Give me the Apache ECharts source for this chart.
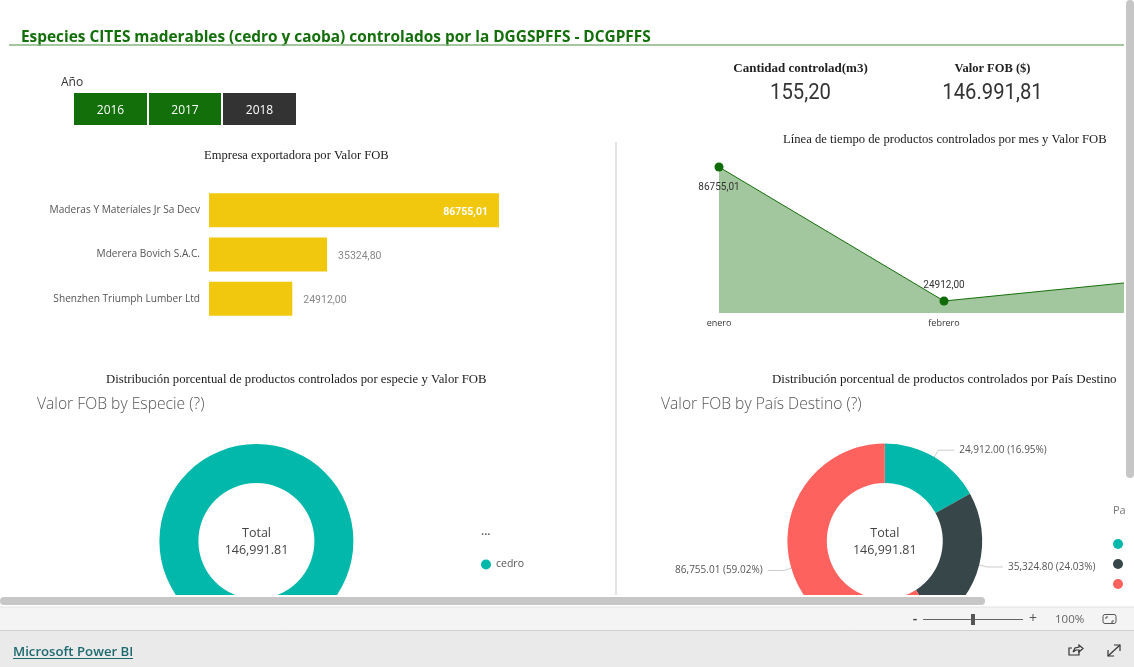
<!DOCTYPE html>
<html><head><meta charset="utf-8">
<script src="https://cdn.jsdelivr.net/npm/echarts@6/dist/echarts.min.js"></script>
<style>html,body{margin:0;padding:0;background:#fff;overflow:hidden}#c{width:1134px;height:667px}</style>
</head><body><div id="c"></div>
<script>
const empresas = ['Maderas Y Materiales Jr Sa Decv','Mderera Bovich S.A.C.','Shenzhen Triumph Lumber Ltd'];
const empresaValores = [86755.01,35324.80,24912.00];
const meses = ['enero','febrero','marzo'];
const mesValores = [86755.01,24912.00,35324.80];
const especies = ['cedro'];
const especieValores = [146991.81];
const destinos = ['Destino 1','Destino 2','Destino 3'];
const destinoValores = [24912.00,35324.80,86755.01];
const anios = ['2016','2017','2018'];
const fmtComa = v => v.toFixed(2).replace('.',',');
const fmtEn = v => v.toLocaleString('en-US',{minimumFractionDigits:2,maximumFractionDigits:2});
const UI='"Open Sans"', DIN='Roboto', SERIF='"Liberation Serif"';
const GREEN='#136f0a';
const heading=(text,x,y,size)=>({type:'text',zlevel:1,style:{text,x,y:y+1,font:size+'px '+SERIF,fill:'#1a1a1a',textVerticalAlign:'middle'}});
const txt=(text,x,y,font,fill,align)=>({type:'text',zlevel:1,style:{text,x,y:y+2,font,fill,textAlign:align||'left',textVerticalAlign:'middle'}});
const kpi=(text,cx,y)=>({type:'text',zlevel:1,x:cx,y:y+1,scaleX:0.92,style:{text,x:0,y:0,font:'22px '+DIN,fill:'#333',textAlign:'center',textVerticalAlign:'middle'}});
const rect=(x,y,w,h,fill,r)=>({type:'rect',zlevel:1,shape:{x,y,width:w,height:h,r:r||0},style:{fill}});
const line=(x1,y1,x2,y2,stroke,lw)=>({type:'line',zlevel:1,shape:{x1,y1,x2,y2},style:{stroke,lineWidth:lw||1}});
const poly=(points,stroke,lw)=>({type:'polyline',zlevel:1,shape:{points},style:{stroke,lineWidth:lw||1,fill:'none'}});
const chrome=[
  // covers that crop the report canvas
  rect(1124,0,10,667,'#fff'),
  rect(0,595,1134,12,'#fff'),
  // scrollbars
  rect(1126,0,8,478,'#c6c6c6',4),
  rect(0,597,985,8,'#c6c6c6',4),
  // footer
  rect(0,607,1134,23,'#f4f4f4'),
  line(0,607,1134,607,'#e2e2e2',1),
  rect(0,630,1134,37,'#eaeaea'),
  line(0,630.5,1134,630.5,'#cfcfcf',1),
  txt('Microsoft Power BI',13,650.5,'600 13.2px '+UI,'#1c6a70'),
  line(13,658.5,133,658.5,'#1c6a70',1),
  txt('-',915,617,'600 14px '+UI,'#444','center'),
  line(923,619.5,1023,619.5,'#666',1),
  rect(971,614,4,11,'#555'),
  txt('+',1033,617,'14px '+UI,'#555','center'),
  txt('100%',1055,617.5,'11.5px '+UI,'#666'),
  {type:'rect',zlevel:1,shape:{x:1103,y:614.5,width:13,height:9,r:2},style:{fill:'none',stroke:'#555',lineWidth:1}},
  poly([[1106,619],[1106,617],[1108,617]],'#555',1),
  poly([[1111,622],[1113,622],[1113,620]],'#555',1),
  poly([[1079,651],[1079,655],[1069,655],[1069,648],[1072,648]],'#333',1.2),
  poly([[1073,652],[1075,648],[1079,647],[1079,645],[1083,648.5],[1079,652],[1079,650],[1076,650],[1073,652]],'#333',1.2),
  line(1108,656,1120,645,'#333',1.2),
  poly([[1114,645],[1120,645],[1120,651]],'#333',1.2),
  poly([[1108,650],[1108,656],[1114,656]],'#333',1.2),
  // header
  txt('Especies CITES maderables (cedro y caoba) controlados por la DGGSPFFS - DCGPFFS',21,36,'700 15.4px '+UI,GREEN),
  line(9,45,1124,45,'#86b57f',1.5),
  // slicer
  txt('Año',61,81,'12px '+UI,'#333'),
  // KPI
  txt('Cantidad controlad(m3)',800.5,67,'700 13px '+SERIF,'#222','center'),
  txt('Valor FOB ($)',992.5,67,'700 12.5px '+SERIF,'#222','center'),
  kpi('155,20',800.5,92),
  kpi('146.991,81',992.5,92),
  // divider
  line(616,142,616,595,'#e3e3e3',2),
  // headings
  heading('Empresa exportadora por Valor FOB',204,155,12.55),
  heading('Línea de tiempo de productos controlados por mes y Valor FOB',783,139,12.65),
  heading('Distribución porcentual de productos controlados por especie y Valor FOB',106,379,12.73),
  heading('Distribución porcentual de productos controlados por País Destino',772,379,12.95),
  txt('Valor FOB by Especie (?)',37,402.5,'300 15.7px '+UI,'#555'),
  txt('Valor FOB by País Destino (?)',661,402.5,'300 15.7px '+UI,'#555'),
  txt('Total',256.5,531.5,'12.5px '+UI,'#444','center'),
  txt(fmtEn(especieValores[0]),256.5,548.5,'12.5px '+UI,'#444','center'),
  txt('Total',884.8,531.5,'12.5px '+UI,'#444','center'),
  txt(fmtEn(especieValores[0]),884.8,548.5,'12.5px '+UI,'#444','center'),
  txt('...',481,530,'700 11px '+UI,'#666'),
  txt('Pa',1113,509,'11px '+UI,'#777'),
];
anios.forEach((a,i)=>{
  const x=[74,149,223][i], w=[73,72,73][i];
  chrome.push(rect(x,93,w,32,i===2?'#333333':GREEN));
  chrome.push(txt(a,x+w/2,109,'12px '+UI,'#fff','center'));
});
const chart=echarts.init(document.getElementById('c'),null,{renderer:'canvas'});
chart.setOption({
  animation:false,
  graphic:{elements:chrome},
  legend:[
    {data:especies,orient:'vertical',left:481,top:559,icon:'circle',itemWidth:10,itemHeight:10,selectedMode:false,
     textStyle:{fontFamily:UI,fontSize:10.5,color:'#555'},itemGap:9,padding:0},
    {data:destinos,orient:'vertical',left:1113,top:539,icon:'circle',itemWidth:10,itemHeight:10,selectedMode:false,
     formatter:()=>'',itemGap:10,padding:0}
  ],
  grid:[
    {left:209,top:188,width:290,height:133,outerBoundsMode:'none'},
    {left:719,top:167,width:450,height:146,outerBoundsMode:'none'}
  ],
  xAxis:[
    {gridIndex:0,type:'value',min:0,max:86755.01,show:false},
    {gridIndex:1,type:'category',data:meses,boundaryGap:false,axisLine:{show:false},axisTick:{show:false},
     axisLabel:{fontFamily:UI,fontSize:9,color:'#333',margin:6,interval:0,hideOverlap:false}}
  ],
  yAxis:[
    {gridIndex:0,type:'category',data:empresas,inverse:true,axisLine:{show:false},axisTick:{show:false},
     axisLabel:{fontFamily:UI,fontSize:10.15,color:'#555',margin:9,padding:[2,0,0,0]}},
    {gridIndex:1,type:'value',min:19374,max:86755.01,show:false,splitLine:{show:false}}
  ],
  series:[
    {type:'bar',xAxisIndex:0,yAxisIndex:0,barWidth:34,
     itemStyle:{color:'#f2c80f'},
     data:empresaValores.map((v,i)=>({value:v,label:i===0
       ?{show:true,position:'insideRight',distance:11,offset:[0,2],color:'#fff',fontWeight:700,fontFamily:DIN,fontSize:10.5,formatter:p=>fmtComa(p.value)}
       :{show:true,position:'right',distance:11,offset:[0,2],color:'#888',fontFamily:DIN,fontSize:10.5,formatter:p=>fmtComa(p.value)}}))},
    {type:'line',xAxisIndex:1,yAxisIndex:1,clip:false,symbol:'circle',symbolSize:9,
     lineStyle:{color:'#136f0a',width:1},itemStyle:{color:'#0f6b08'},areaStyle:{color:'#a2c69d',opacity:1,origin:'start'},
     label:{show:true,fontFamily:DIN,fontSize:10,color:'#333',formatter:p=>fmtComa(p.value)},
     data:mesValores.map((v,i)=>({value:v,label:{position:i===0?'bottom':'top',distance:i===0?11:6}}))},
    {type:'pie',name:'Especie',center:[256.4,541],radius:[58,97],startAngle:90,label:{show:false},labelLine:{show:false},
     color:['#01B8AA'],data:especies.map((n,i)=>({name:n,value:especieValores[i]}))},
    {type:'pie',name:'Destino',center:[884.8,541],radius:[58,97.4],startAngle:90,percentPrecision:2,
     color:['#01B8AA','#374649','#FD625E'],
     label:{show:true,fontFamily:UI,fontSize:10,color:'#555',formatter:p=>fmtEn(p.value)+' ('+p.percent.toFixed(2)+'%)'},
     labelLine:{show:true,length:8,length2:16,lineStyle:{color:'#ccc',width:1}},
     data:destinos.map((n,i)=>({name:n,value:destinoValores[i]}))}
  ]
});
</script></body></html>
